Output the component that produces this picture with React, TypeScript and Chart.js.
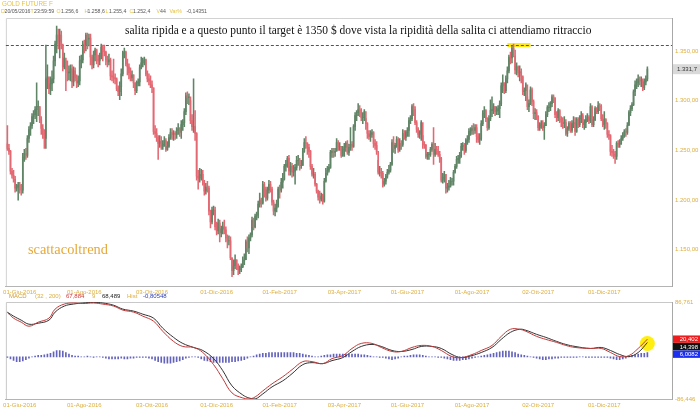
import React, { useEffect, useRef } from 'react';
import { Chart, registerables } from 'chart.js';
Chart.register(...registerables);

// ---------- DATA ----------
const firstOpen = 1256.6;
const closes = [
  1252,1249,1229,1225,1221,1212,1213,1215,
  1211,1210,1243,1247,1245,1262,1271,1275,1284,1286,1291,1294,1294,1281,1272,1266,1262,1322,1324,1312,1317,1322,
  1340,1357,1366,1360,1366,1356,1334,1343,1332,1328,1329,1332,1319,1330,1323,1318,1320,1340,1341,1357,
  1356,1366,1362,1363,1344,1336,1346,1351,1342,1340,1345,1354,1350,1349,1341,1339,1341,1325,1324,1323,1322,1312,1309,
  1314,1327,1348,1349,1337,1334,1328,1323,1326,1318,1310,1318,1319,1333,1338,1340,1341,1327,1322,1320,1316,
  1313,1269,1267,1263,1257,1259,1254,1256,1260,1251,1254,1263,1268,1266,1267,1266,1270,1272,1268,1276,1278,
  1289,1305,1303,1304,1280,1274,1274,1267,1224,1222,1225,1226,1217,1209,1213,1212,1189,1178,1190,1190,1173,
  1169,1177,1167,1171,1173,1170,1162,1159,1159,1142,1129,1134,1140,1133,1130,1130,1133,1139,1140,1158,1152,
  1162,1165,1180,1173,1184,1185,1196,1200,1197,1216,1211,1202,1210,1216,1211,1198,1189,1192,1195,1211,
  1210,1218,1221,1234,1236,1242,1229,1234,1228,1229,1233,1240,1240,1235,1235,1249,1258,1257,1253,
  1249,1234,1226,1226,1216,1209,1203,1201,1204,1199,1219,1227,1230,1233,1248,1249,1248,1249,1258,1254,1254,1245,1251,
  1253,1257,1248,1253,1256,1254,1274,1285,1288,1291,1290,1283,1283,1289,1277,1267,1264,1266,1268,
  1257,1255,1249,1228,1228,1227,1216,1219,1224,1228,1230,1236,1258,1252,1255,1261,1251,1257,1256,1267,1263,1268,
  1270,1280,1282,1294,1291,1278,1271,1266,1268,1278,1256,1255,1244,1246,1246,1251,1256,1246,1251,1249,1246,1242,
  1220,1223,1226,1212,1213,1214,1219,1219,1228,1234,1241,1242,1245,1254,1255,1250,1260,1261,1269,1270,
  1272,1270,1273,1264,1261,1262,1277,1287,1290,1282,1273,1282,1290,1291,1294,1289,1290,1292,1297,1315,1318,1310,1322,
  1330,1344,1343,1353,1351,1331,1334,1328,1329,1325,1309,1310,1316,1294,1297,1311,1299,1287,1288,1284,
  1273,1275,1277,1273,1275,1286,1293,1293,1297,1304,1303,1286,1283,1290,1281,1279,1277,1278,1267,1272,1277,1270,
  1277,1278,1269,1281,1276,1282,1285,1276,1278,1281,1283,1280,1294,1276,1281,1292,1289,1295,1294,1282,1276,
  1281,1277,1266,1265,1249,1248,1246,1244,1257,1256,1257,1262,1265,1269,1268,1275,1288,1292,1296,1309,
  1316,1318,1322,1320,1320,1313,1319,1322,1331.7,
];
const highs = [
  1275,1256,1250,1232,1230,1224,1216,1218,
  1218,1216,1247,1251,1252,1265,1274,1278,1287,1290,1294,1318,1300,1294,1284,1276,1271,1356,1336,1323,1324,1330,
  1345,1360,1375,1372,1372,1370,1357,1348,1340,1340,1335,1336,1336,1334,1333,1326,1325,1345,1346,1360,
  1361,1368,1368,1367,1367,1346,1350,1353,1352,1346,1348,1357,1356,1356,1350,1345,1347,1343,1330,1342,1327,1323,1315,
  1319,1332,1350,1353,1350,1342,1337,1333,1330,1326,1318,1320,1322,1336,1344,1343,1344,1342,1330,1327,1325,
  1320,1313,1275,1272,1265,1265,1264,1260,1264,1262,1259,1266,1272,1272,1270,1269,1273,1277,1273,1280,1281,
  1292,1308,1309,1307,1300,1286,1322,1290,1268,1230,1232,1231,1230,1220,1217,1219,1214,1190,1193,1194,1193,
  1178,1181,1180,1174,1178,1180,1173,1165,1164,1163,1142,1140,1145,1140,1136,1134,1136,1143,1146,1160,1163,
  1165,1167,1183,1182,1186,1188,1199,1207,1202,1219,1218,1213,1213,1220,1219,1213,1200,1196,1200,1213,
  1215,1222,1227,1236,1240,1244,1245,1238,1237,1235,1236,1244,1245,1242,1240,1252,1262,1264,1258,
  1256,1250,1236,1232,1228,1217,1210,1209,1207,1206,1222,1232,1234,1236,1250,1252,1252,1252,1262,1260,1258,1254,1254,
  1257,1259,1260,1256,1273,1259,1276,1288,1290,1297,1295,1292,1288,1291,1282,1278,1270,1270,1271,
  1269,1261,1259,1240,1234,1232,1229,1222,1226,1231,1235,1238,1261,1264,1257,1264,1263,1262,1260,1271,1270,1270,
  1273,1283,1285,1296,1297,1294,1280,1273,1270,1280,1265,1259,1256,1248,1248,1253,1258,1273,1257,1254,1254,1249,
  1243,1227,1229,1226,1217,1220,1223,1222,1230,1236,1244,1245,1248,1257,1258,1257,1262,1265,1272,1273,
  1275,1277,1276,1276,1267,1267,1280,1290,1294,1291,1283,1285,1301,1304,1297,1294,1294,1295,1300,1318,1326,1318,1325,
  1334,1346,1349,1355,1357,1345,1338,1335,1335,1332,1324,1313,1318,1304,1301,1314,1313,1301,1292,1291,
  1285,1278,1280,1280,1278,1289,1295,1298,1299,1306,1306,1303,1289,1292,1291,1284,1283,1284,1281,1274,1279,1279,
  1280,1284,1283,1283,1283,1285,1289,1287,1281,1285,1287,1285,1297,1295,1284,1294,1293,1299,1297,1296,1286,
  1289,1282,1278,1270,1266,1255,1251,1249,1259,1260,1261,1265,1268,1271,1272,1278,1290,1295,1298,1311,
  1320,1322,1326,1324,1324,1322,1322,1325,1334,
];
const lows = [
  1250,1246,1226,1222,1218,1208,1209,1200,
  1207,1205,1207,1239,1241,1243,1258,1265,1272,1277,1282,1279,1285,1278,1266,1262,1252,1252,1312,1307,1306,1310,
  1318,1335,1348,1352,1343,1352,1330,1332,1310,1320,1321,1320,1313,1315,1320,1313,1314,1316,1333,1338,
  1348,1350,1352,1355,1336,1332,1333,1340,1337,1334,1336,1342,1340,1345,1336,1334,1336,1321,1320,1318,1317,1310,1305,
  1301,1305,1325,1343,1335,1326,1322,1320,1320,1313,1306,1308,1315,1315,1332,1334,1336,1325,1319,1316,1313,
  1308,1266,1263,1259,1241,1253,1251,1251,1254,1249,1250,1253,1261,1261,1260,1261,1262,1266,1264,1262,1270,
  1274,1286,1297,1296,1277,1270,1268,1260,1220,1211,1218,1220,1215,1205,1206,1208,1185,1172,1176,1185,1170,
  1165,1166,1158,1163,1166,1166,1158,1152,1155,1140,1123,1125,1131,1130,1125,1126,1128,1132,1135,1140,1148,
  1146,1159,1163,1170,1172,1180,1182,1193,1193,1196,1203,1199,1200,1207,1208,1195,1185,1184,1188,1193,
  1202,1208,1212,1220,1229,1233,1225,1225,1223,1224,1216,1230,1235,1230,1232,1235,1248,1252,1246,
  1243,1231,1224,1222,1214,1207,1200,1197,1199,1196,1198,1218,1225,1228,1232,1243,1243,1244,1250,1250,1250,1243,1244,
  1244,1249,1246,1245,1250,1250,1253,1270,1280,1285,1284,1280,1277,1280,1271,1262,1261,1259,1263,
  1253,1251,1246,1226,1224,1222,1213,1214,1216,1222,1226,1228,1235,1248,1247,1253,1248,1249,1251,1254,1261,1260,
  1264,1264,1277,1280,1285,1276,1268,1263,1262,1260,1252,1252,1242,1241,1241,1244,1249,1236,1244,1246,1244,1238,
  1218,1217,1218,1207,1208,1210,1213,1215,1215,1227,1232,1237,1237,1243,1250,1246,1248,1256,1258,1265,
  1266,1266,1267,1258,1258,1256,1260,1275,1283,1279,1270,1271,1280,1284,1287,1285,1286,1286,1283,1295,1308,1307,1308,
  1318,1328,1337,1338,1344,1327,1326,1324,1320,1318,1306,1305,1300,1291,1289,1296,1295,1282,1281,1281,
  1270,1270,1272,1270,1261,1275,1284,1289,1290,1294,1298,1283,1279,1280,1278,1274,1272,1273,1265,1264,1270,1268,
  1268,1273,1265,1268,1273,1274,1278,1273,1271,1273,1279,1277,1278,1274,1274,1280,1287,1287,1290,1280,1274,
  1271,1272,1263,1261,1245,1244,1242,1237,1241,1253,1253,1256,1260,1263,1264,1266,1276,1285,1290,1295,
  1305,1312,1314,1316,1314,1310,1311,1316,1320,
];
const dateTickIdx = [8, 50, 94, 136, 177, 219, 260, 302, 345, 388];
const dateTickLabels = ['01-Giu-2016', '01-Ago-2016', '03-Ott-2016', '01-Dic-2016', '01-Feb-2017', '03-Apr-2017', '01-Giu-2017', '01-Ago-2017', '02-Ott-2017', '01-Dic-2017'];
const priceTicks = [1150, 1200, 1250, 1300, 1350];
const priceMin = 1113.6;
const priceMax = 1383.2;
const targetLevel = 1356;
const highlightIdx = [325, 340];
const highlightPrice = [1354, 1358];

const macdIdx = [0,4,9,14,20,27,31,37,43,49,56,62,69,75,82,88,95,101,108,114,121,127,134,140,146,153,157,161,166,172,179,185,192,198,205,211,218,224,230,237,243,250,256,263,269,276,282,289,295,302,308,315,321,327,333,337,344,350,357,363,369,379,386,392,398,404,410,416];
const macdValues = [67.884,57.9,50.7,43.5,50.7,57.9,74.1,83.1,85,84,85,83,79.5,72.3,68.7,61.5,52.5,34.4,16.4,7.4,5.6,-3.4,-25,-50.3,-75.6,-84.6,-86.4,-82.8,-72,-59.4,-46.7,-34.1,-19.7,-19.7,-23.3,-14.3,-8.9,3.8,12.8,12.8,5.6,-1.6,-1.6,5.6,9.2,7.4,0.2,-10.7,-12.5,-7.1,0.2,9.2,25.4,38.1,38.1,34.5,25.4,20,14.6,9.2,5.6,3.8,3.8,-3.4,-10.7,-8.9,3.8,20.402];
const signalValues = [68.489,61.5,54.3,47.1,48.9,54.3,68.7,79.5,83.1,85,86,85,81,74.1,70.5,65,57.9,39.9,23.6,12.8,5.6,0.2,-14.3,-35.9,-63,-79.2,-84.6,-86.4,-77.4,-64.8,-54,-41.3,-25.1,-21.5,-23.3,-17.9,-12.5,-1.6,7.4,11,7.4,0.2,-1.6,2,7.4,7.4,3.8,-7,-12.5,-8.9,-3.4,5.6,20,32.6,38.1,36.3,29,23.6,16.4,11,7.4,3.8,5.6,0.2,-7,-10.7,-3.4,14.398];
const histStep = 2;
const histValues = [
  -0.80548,-3,-5,-7,-7,-6,-4,-2,
  0,1,2,2,
  3,4,5,
  7,9,9,8,6,
  4,2,
  1,1,0,0,1,0,-1,0,0,
  -1,-2,-3,-3,-3,-3,-2,-3,-3,-2,-2,-1,
  -1,-1,-1,-2,-3,
  -5,-7,-8,-9,-9,-9,-8,-7,-6,-4,
  -2,-1,0,0,-1,
  -3,-5,-6,-7,-8,-8,-8,-8,-8,-8,-7,-7,-6,-5,
  -4,-2,0,1,3,4,
  5,5,6,6,6,6,6,6,6,6,6,5,5,4,3,
  2,1,0,0,1,
  2,3,3,4,4,4,4,4,4,4,4,4,3,3,2,1,
  0,0,-1,-1,-2,
  -3,-4,-3,-2,
  0,1,1,2,
  3,3,3,2,1,
  0,0,0,-1,-1,-2,
  -3,-4,-5,-5,-5,-4,-4,-3,-2,-1,0,
  1,2,3,4,
  5,6,7,8,8,8,7,6,4,3,
  2,1,0,-1,-2,-3,
  -4,-4,-3,-3,-2,-2,-1,
  -1,-1,-1,-1,-1,0,0,-1,-1,-1,-1,-1,-1,-1,-1,-2,
  -3,-4,-4,-3,-2,0,
  2,3,4,5,5,6.0082,
];
const macdMin = -86.446;
const macdMax = 86.761;

// ---------- STYLE ----------
const UP = '#5f8466';
const DOWN = '#e36872';
const LABEL = '#dcae3e';
const SANS = '"Liberation Sans", Arial, sans-serif';
const SERIF = '"Liberation Serif", "Times New Roman", serif';
const X_MIN = -1;
const X_MAX = 432;

const fmtNum = (v: number, dec: number) => {
  const s = v.toFixed(dec);
  const neg = s.startsWith('-');
  const [i, d] = (neg ? s.slice(1) : s).split('.');
  const ii = i.replace(/\B(?=(\d{3})+(?!\d))/g, '.');
  return (neg ? '-' : '') + (d ? ii + ',' + d : ii);
};

function xAxis(height: number, pad: number) {
  return {
    type: 'linear' as const,
    min: X_MIN,
    max: X_MAX,
    offset: false,
    grid: { display: false, drawTicks: false },
    border: { display: true, color: '#b4b4b4' },
    afterBuildTicks: (s: any) => { s.ticks = dateTickIdx.map((v) => ({ value: v })); },
    afterFit: (s: any) => { s.height = height; },
    ticks: {
      autoSkip: false,
      maxRotation: 0,
      color: LABEL,
      font: { size: 6, family: SANS },
      padding: pad,
      callback: (v: any) => { const k = dateTickIdx.indexOf(Number(v)); return k >= 0 ? dateTickLabels[k] : ''; },
    },
  };
}

export default function App() {
  const mainRef = useRef<HTMLCanvasElement>(null);
  const macdRef = useRef<HTMLCanvasElement>(null);

  useEffect(() => {
    const opens = closes.map((c, i) => (i === 0 ? firstOpen : closes[i - 1]));
    const colors = closes.map((c, i) => (c >= opens[i] ? UP : DOWN));

    const mainDecor = {
      id: 'mainDecor',
      beforeDatasetsDraw(chart: any) {
        const { ctx, chartArea: a, scales } = chart;
        const xs = scales.x, ys = scales.y;
        ctx.save();
        ctx.strokeStyle = '#d2d2d2';
        ctx.lineWidth = 1;
        ctx.beginPath();
        ctx.moveTo(a.left + 0.5, a.bottom);
        ctx.lineTo(a.left + 0.5, a.top + 0.5);
        ctx.lineTo(a.right, a.top + 0.5);
        ctx.stroke();
        // yellow highlight
        const hx0 = xs.getPixelForValue(highlightIdx[0]);
        const hx1 = xs.getPixelForValue(highlightIdx[1]);
        const hy0 = ys.getPixelForValue(highlightPrice[1]);
        const hy1 = ys.getPixelForValue(highlightPrice[0]);
        ctx.fillStyle = '#ffe81a';
        ctx.fillRect(hx0, hy0, hx1 - hx0, hy1 - hy0);
        // dashed target line
        const ty = Math.round(ys.getPixelForValue(targetLevel)) + 0.5;
        ctx.strokeStyle = '#555';
        ctx.setLineDash([3, 2]);
        ctx.beginPath();
        ctx.moveTo(a.left, ty);
        ctx.lineTo(a.right, ty);
        ctx.stroke();
        ctx.restore();
      },
      afterDraw(chart: any) {
        const { ctx, chartArea: a, scales } = chart;
        const ys = scales.y;
        ctx.save();
        ctx.textBaseline = 'middle';
        ctx.textAlign = 'left';
        // header
        ctx.font = `6.3px ${SANS}`;
        ctx.fillStyle = '#e8c23e';
        ctx.fillText('GOLD FUTURE F', 2, 4.5);
        const parts: [string, number, string][] = [
          ['D', 1, '#e8c23e'], ['20/05/2016', 4.5, '#555'], ['T', 30.5, '#e8c23e'], ['23:59:59', 34, '#555'],
          ['O', 56.5, '#e8c23e'], ['1.256,6', 61, '#555'], ['H', 84.5, '#e8c23e'], ['1.258,6', 87.5, '#555'],
          ['L', 105.5, '#e8c23e'], ['1.255,4', 109, '#555'], ['C', 129.5, '#e8c23e'], ['1.252,4', 133, '#555'],
          ['V', 156.5, '#e8c23e'], ['44', 160, '#555'], ['Var%', 169.5, '#e8c23e'], ['-0,14351', 186.5, '#555'],
        ];
        ctx.font = `5.2px ${SANS}`;
        parts.forEach(([t, x, c]) => { ctx.fillStyle = c; ctx.fillText(t, x, 12); });
        // annotation
        const note = 'salita ripida e a questo punto il target è 1350 $ dove vista la ripidità della salita ci attendiamo ritraccio';
        ctx.font = `13px ${SERIF}`;
        const w13 = ctx.measureText(note).width;
        const fs = 13 * 467 / w13;
        ctx.font = `${fs}px ${SERIF}`;
        ctx.fillStyle = '#111';
        ctx.fillText(note, 125, 31);
        // watermark
        const wm = 'scattacoltrend';
        ctx.font = `15px ${SERIF}`;
        const ww = ctx.measureText(wm).width;
        ctx.font = `${15 * 80 / ww}px ${SERIF}`;
        ctx.fillStyle = '#e6a93a';
        ctx.fillText(wm, 28, 250);
        // last price box
        const last = closes[closes.length - 1];
        const ly = ys.getPixelForValue(last);
        ctx.fillStyle = '#d9d9d9';
        ctx.fillRect(a.right + 1, ly - 5, 700 - a.right - 1, 10);
        ctx.fillStyle = '#333';
        ctx.font = `6px ${SANS}`;
        ctx.fillText(fmtNum(last, 1), a.right + 5, ly + 0.5);
        ctx.restore();
      },
    };

    const main = new Chart(mainRef.current!, {
      type: 'bar',
      data: {
        datasets: [
          {
            label: 'body',
            data: closes.map((c, i) => ({ x: i, y: [opens[i], c] })) as any,
            backgroundColor: colors,
            barThickness: 1,
            grouped: false,
            borderWidth: 0,
          },
          {
            label: 'wick',
            data: closes.map((c, i) => ({ x: i, y: [lows[i], highs[i]] })) as any,
            backgroundColor: colors,
            barThickness: 0.9,
            grouped: false,
            borderWidth: 0,
          },
        ],
      },
      options: {
        animation: false,
        responsive: false,
        devicePixelRatio: 1,
        events: [],
        layout: { padding: { left: 2, top: 18, right: 0, bottom: 114 } },
        plugins: { legend: { display: false }, tooltip: { enabled: false } },
        scales: {
          x: xAxis(14, 3) as any,
          y: {
            position: 'right',
            min: priceMin,
            max: priceMax,
            grid: { display: false, drawTicks: false },
            border: { display: true, color: '#a8a8a8' },
            afterBuildTicks: (s: any) => { s.ticks = priceTicks.map((v) => ({ value: v })); },
            afterFit: (s: any) => { s.width = 28; },
            ticks: { color: LABEL, font: { size: 6, family: SANS }, padding: 3, callback: (v: any) => fmtNum(Number(v), 2) },
          },
        },
      },
      plugins: [mainDecor],
    });

    const macdDecor = {
      id: 'macdDecor',
      beforeDatasetsDraw(chart: any) {
        const { ctx, chartArea: a, scales } = chart;
        ctx.save();
        ctx.strokeStyle = '#c8c8c8';
        ctx.lineWidth = 1;
        ctx.beginPath();
        ctx.moveTo(a.left + 0.5, a.bottom);
        ctx.lineTo(a.left + 0.5, a.top + 0.5);
        ctx.lineTo(a.right, a.top + 0.5);
        ctx.stroke();
        // yellow circle around last values
        const cx = scales.x.getPixelForValue(macdIdx[macdIdx.length - 1]);
        const cy = scales.y.getPixelForValue(signalValues[signalValues.length - 1]);
        ctx.fillStyle = '#ffee10';
        ctx.beginPath();
        ctx.arc(cx, cy + 1, 7.5, 0, Math.PI * 2);
        ctx.fill();
        ctx.restore();
      },
      afterDraw(chart: any) {
        const { ctx, chartArea: a, scales } = chart;
        ctx.save();
        ctx.textBaseline = 'middle';
        ctx.font = `6px ${SANS}`;
        const legend: [string, number, string][] = [
          ['MACD', 9, '#d49a2a'], ['(32 , 200)', 35, LABEL], [fmtNum(macdValues[0], 3), 66, '#d23a3a'],
          ['9', 92, LABEL], [fmtNum(signalValues[0], 3), 102, '#222'], ['Hist', 127, LABEL],
          [fmtNum(histValues[0], 5), 143, '#2f3fb0'],
        ];
        legend.forEach(([t, x, c]) => { ctx.fillStyle = c; ctx.fillText(t, x, 296.5); });
        // value boxes
        const y0 = scales.y.getPixelForValue(macdValues[macdValues.length - 1]);
        const boxes: [string, string][] = [
          [fmtNum(macdValues[macdValues.length - 1], 3), '#ee1c1c'],
          [fmtNum(signalValues[signalValues.length - 1], 3), '#111'],
          [fmtNum(histValues[histValues.length - 1], 4), '#1d2ff0'],
        ];
        boxes.forEach(([t, c], k) => {
          const yc = y0 + k * 7.5;
          ctx.fillStyle = c;
          ctx.fillRect(a.right + 1, yc - 3.7, 700 - a.right - 1, 7.4);
          ctx.fillStyle = '#fff';
          ctx.textAlign = 'right';
          ctx.fillText(t, 698, yc + 0.3);
        });
        ctx.restore();
      },
    };

    const macd = new Chart(macdRef.current!, {
      type: 'bar',
      data: {
        datasets: [
          {
            type: 'line',
            label: 'MACD',
            data: macdIdx.map((x, k) => ({ x, y: macdValues[k] })) as any,
            borderColor: '#c03a3a',
            borderWidth: 1,
            pointRadius: 0,
            tension: 0.4,
            yAxisID: 'y',
          } as any,
          {
            type: 'line',
            label: 'Signal',
            data: macdIdx.map((x, k) => ({ x, y: signalValues[k] })) as any,
            borderColor: '#333',
            borderWidth: 1,
            pointRadius: 0,
            tension: 0.4,
            yAxisID: 'y',
          } as any,
          {
            type: 'bar',
            label: 'Hist',
            data: histValues.map((v, k) => ({ x: k * histStep, y: v })) as any,
            backgroundColor: '#6363bd',
            barThickness: 1,
            grouped: false,
            borderWidth: 0,
            yAxisID: 'yh',
          },
        ],
      },
      options: {
        animation: false,
        responsive: false,
        devicePixelRatio: 1,
        events: [],
        layout: { padding: { left: 2, top: 302, right: 0, bottom: 3 } },
        plugins: { legend: { display: false }, tooltip: { enabled: false } },
        scales: {
          x: xAxis(12, 3) as any,
          y: {
            position: 'right',
            min: macdMin,
            max: macdMax,
            grid: { display: false, drawTicks: false },
            border: { display: true, color: '#a8a8a8' },
            afterBuildTicks: (s: any) => { s.ticks = [{ value: macdMin }, { value: macdMax }]; },
            afterFit: (s: any) => { s.width = 28; },
            ticks: { color: LABEL, font: { size: 6, family: SANS }, padding: 3, callback: (v: any) => fmtNum(Number(v), 3) },
          },
          yh: { display: false, min: -60, max: 78 },
        },
      },
      plugins: [macdDecor],
    });

    return () => { main.destroy(); macd.destroy(); };
  }, []);

  return (
    <div style={{ position: 'fixed', left: 0, top: 0, width: 700, height: 414, background: '#fff' }}>
      <canvas ref={mainRef} width={700} height={414} style={{ position: 'absolute', left: 0, top: 0 }} />
      <canvas ref={macdRef} width={700} height={414} style={{ position: 'absolute', left: 0, top: 0 }} />
    </div>
  );
}
